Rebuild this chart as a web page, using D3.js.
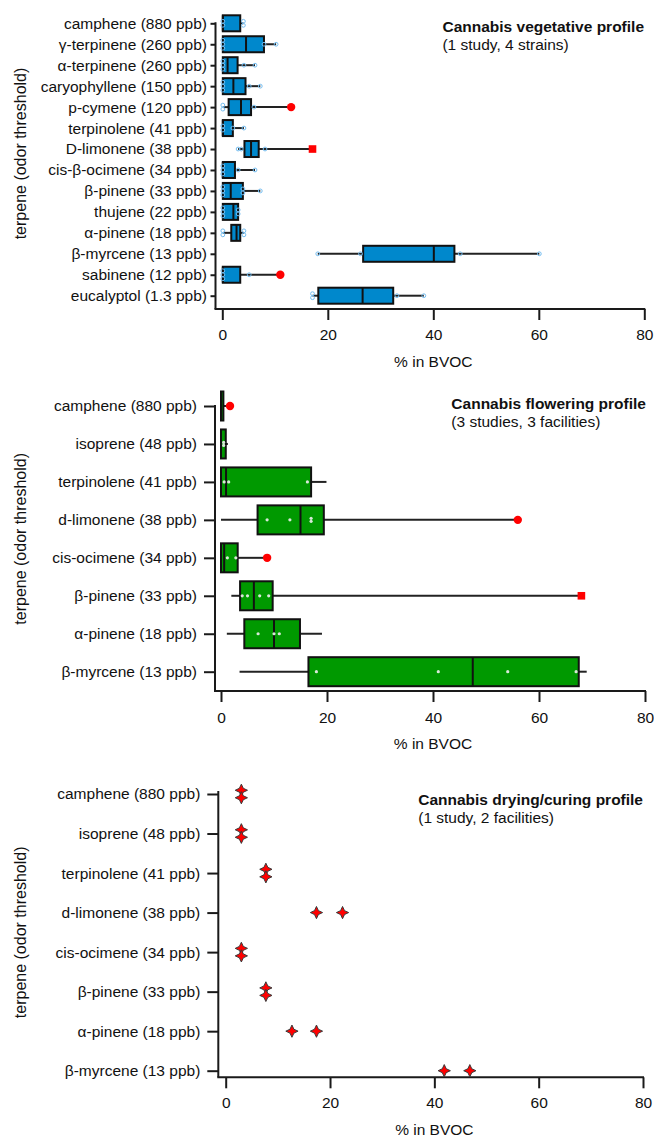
<!DOCTYPE html>
<html>
<head>
<meta charset="utf-8">
<script src="https://cdn.jsdelivr.net/npm/d3@7"></script>
<style>
body { margin: 0; background: #fff; }
text { font-family: "Liberation Sans", Arial, sans-serif; fill: #111; }
</style>
</head>
<body>
<svg id="chart" width="654" height="1137"></svg>
<script>
// ---- vegetative profile (box plots) ----
const vegTerpenes = ["camphene (880 ppb)", "γ-terpinene (260 ppb)", "α-terpinene (260 ppb)", "caryophyllene (150 ppb)",
    "p-cymene (120 ppb)", "terpinolene (41 ppb)", "D-limonene (38 ppb)", "cis-β-ocimene (34 ppb)", "β-pinene (33 ppb)",
    "thujene (22 ppb)", "α-pinene (18 ppb)", "β-myrcene (13 ppb)", "sabinene (12 ppb)", "eucalyptol (1.3 ppb)"];
const vegLo     = [0.1, 0.1, 0.1, 0.1, 0.1, 0.1, 3.0, 0.1, 0.1, 0.1, 0.1, 18.1, 0.1, 17.1];
const vegQ1     = [0.1, 0.1, 0.1, 0.1, 1.2, 0.1, 4.2, 0.1, 0.1, 0.1, 1.7, 26.7, 0.1, 18.2];
const vegMedian = [0.1, 4.5, 1.0, 2.1, 3.55, 0.1, 5.45, 0.1, 1.6, 2.1, 2.7, 40.1, 0.1, 26.6];
const vegQ3     = [3.4, 7.9, 2.9, 4.4, 5.45, 2.0, 6.9, 2.4, 3.9, 3.0, 3.4, 44.0, 3.4, 32.4];
const vegHi     = [4.0, 10.2, 6.2, 7.2, 13.05, 4.1, 17.1, 6.2, 7.2, 3.0, 4.1, 60.1, 11.0, 38.2];
const vegPoints = [
    [0.1, 0.1, 4.0, 4.0], [0.1, 0.1, 0.1, 7.9, 10.2], [0.1, 0.1, 0.1, 4.1, 6.2], [0.1, 0.1, 0.1, 5.1, 7.2],
    [0.1, 0.1, 6.0], [0.1, 0.1, 2.0, 4.1], [3.0, 3.6, 8.1], [0.1, 0.1, 0.1, 3.0, 6.2], [0.1, 0.1, 0.1, 3.9, 3.9, 7.2],
    [0.1, 0.1, 0.1, 3.0, 3.0], [0.1, 0.1, 4.1, 4.1], [18.1, 26.2, 45.1, 60.1], [0.1, 0.1, 0.1, 5.1], [17.1, 17.1, 33.1, 38.2]];
const vegOutliers = [null, null, null, null, [13.05, "circle"], null, [17.1, "square"], null, null, null, null, null, [11.0, "circle"], null];

// ---- flowering profile (box plots) ----
const flowTerpenes = ["camphene (880 ppb)", "isoprene (48 ppb)", "terpinolene (41 ppb)", "d-limonene (38 ppb)",
    "cis-ocimene (34 ppb)", "β-pinene (33 ppb)", "α-pinene (18 ppb)", "β-myrcene (13 ppb)"];
const flowLo     = [0, 0, 0, 0, 0, 1.95, 1.1, 3.5];
const flowQ1     = [0, 0, 0, 6.9, 0, 3.6, 4.4, 16.5];
const flowMedian = [0, 0, 0.95, 15.0, 0.6, 6.2, 10.0, 47.5];
const flowQ3     = [0.45, 0.9, 17.0, 19.4, 3.15, 9.75, 14.9, 67.5];
const flowHi     = [1.7, 1.3, 19.9, 56.0, 8.7, 68.0, 19.05, 69.0];
const flowPoints = [[], [0.5, 0.5], [0.6, 1.45, 16.3], [8.7, 13.0, 17.0, 17.0], [1.2, 2.8],
    [4.0, 5.0, 7.3, 9.0], [7.0, 10.0, 11.0], [18.0, 41.0, 54.1, 67.0]];
const flowOutliers = [[1.7, "circle"], null, null, [56.0, "circle"], [8.7, "circle"], [68.0, "square"], null, null];

// ---- drying/curing profile (markers only) ----
const dryTerpenes = ["camphene (880 ppb)", "isoprene (48 ppb)", "terpinolene (41 ppb)", "d-limonene (38 ppb)",
    "cis-ocimene (34 ppb)", "β-pinene (33 ppb)", "α-pinene (18 ppb)", "β-myrcene (13 ppb)"];
const dryFacility1 = [3.0, 3.0, 7.7, 17.4, 3.0, 7.7, 12.7, 41.9];
const dryFacility2 = [3.0, 3.0, 7.7, 22.4, 3.0, 7.7, 17.4, 46.8];

const xTicks = [0, 20, 40, 60, 80];

const svg = d3.select("#chart");

// four point star marker
const star4 = {
    draw(ctx, size) {
        const r = Math.sqrt(size) / 2, ri = r * 0.45;
        for (let i = 0; i < 8; i++) {
            const a = i * Math.PI / 4 - Math.PI / 2;
            const rr = i % 2 === 0 ? r : ri;
            if (i === 0) ctx.moveTo(rr * Math.cos(a), rr * Math.sin(a));
            else ctx.lineTo(rr * Math.cos(a), rr * Math.sin(a));
        }
        ctx.closePath();
    }
};

function drawAxes(g, p, x, y) {
    // x axis
    const xa = g.append("g")
        .attr("transform", `translate(0,${p.axisY})`)
        .call(d3.axisBottom(x).tickValues(xTicks).tickSize(11).tickPadding(p.xPad));
    xa.select(".domain").remove();
    xa.selectAll("line").attr("stroke", "#1a1a1a").attr("stroke-width", 2);
    xa.selectAll("text").style("font-size", "15.5px").attr("fill", "#111");
    g.append("line")
        .attr("x1", p.yAxisX - 1).attr("x2", x(80) + 1)
        .attr("y1", p.axisY).attr("y2", p.axisY)
        .attr("stroke", "#1a1a1a").attr("stroke-width", 2);

    // y axis
    const ya = g.append("g")
        .attr("transform", `translate(${p.yAxisX},0)`)
        .call(d3.axisLeft(y).tickSize(p.yTick).tickPadding(p.yPad));
    ya.select(".domain").remove();
    ya.selectAll("line").attr("stroke", "#1a1a1a").attr("stroke-width", 2);
    ya.selectAll("text").style("font-size", "15.5px").attr("fill", "#111");
    g.append("line")
        .attr("x1", p.yAxisX).attr("x2", p.yAxisX)
        .attr("y1", p.yTop - p.yExtra).attr("y2", p.axisY)
        .attr("stroke", "#1a1a1a").attr("stroke-width", 2);

    // axis titles
    g.append("text")
        .attr("transform", `translate(26,${(p.yTop + p.yBot) / 2 - p.yLabelShift}) rotate(-90)`)
        .attr("text-anchor", "middle")
        .style("font-size", "16px")
        .text("terpene (odor threshold)");
    g.append("text")
        .attr("x", (x(0) + x(80)) / 2)
        .attr("y", p.axisY + 58)
        .attr("text-anchor", "middle")
        .style("font-size", "15.5px")
        .text("% in BVOC");

    // panel title
    const t = g.append("text")
        .attr("x", p.titleX).attr("y", p.titleY)
        .attr("text-anchor", "end")
        .style("font-size", "15.5px")
        .style("font-weight", "bold")
        .text(p.title);
    const bx = t.node().getBBox().x;
    g.append("text")
        .attr("x", bx).attr("y", p.titleY + 18)
        .style("font-size", "15.5px")
        .text(p.subtitle);
}

// spread repeated values vertically so they stay visible
function stacked(vals, gap) {
    const out = [];
    const groups = d3.group(vals, v => Math.round(v * 10));
    groups.forEach(arr => arr.forEach((v, k) => out.push({ v, dy: (k - (arr.length - 1) / 2) * gap })));
    return out;
}

function drawBoxPanel(p) {
    const g = svg.append("g");
    const x = d3.scaleLinear().domain([0, 80]).range([p.x0, p.x80]);
    const y = d3.scalePoint().domain(p.cats).range([p.yTop, p.yBot]);
    drawAxes(g, p, x, y);

    const rows = p.cats.map((c, i) => ({
        c, lo: p.lo[i], q1: p.q1[i], med: p.med[i], q3: p.q3[i], hi: p.hi[i],
        pts: p.pts[i], out: p.out[i]
    }));

    const row = g.append("g").selectAll("g")
        .data(rows)
        .enter().append("g")
        .attr("transform", d => `translate(0,${y(d.c)})`);

    // whiskers
    row.filter(d => d.lo < d.q1).append("line")
        .attr("x1", d => x(d.lo)).attr("x2", d => x(d.q1))
        .attr("stroke", "#222").attr("stroke-width", 2);
    row.filter(d => d.hi > d.q3).append("line")
        .attr("x1", d => x(d.q3)).attr("x2", d => x(d.hi))
        .attr("stroke", "#222").attr("stroke-width", 2);

    // box
    row.append("rect")
        .attr("x", d => x(d.q1))
        .attr("y", -p.boxH / 2)
        .attr("width", d => Math.max(0.5, x(d.q3) - x(d.q1)))
        .attr("height", p.boxH)
        .attr("fill", p.fill)
        .attr("stroke", "#111")
        .attr("stroke-width", 2);
    row.append("line")
        .attr("x1", d => x(d.med)).attr("x2", d => x(d.med))
        .attr("y1", -p.boxH / 2).attr("y2", p.boxH / 2)
        .attr("stroke", "#111").attr("stroke-width", 2);

    // individual samples
    row.each(function(d) {
        const sel = d3.select(this);
        sel.selectAll("circle.pt")
            .data(stacked(d.pts, p.stackGap))
            .enter().append("circle")
            .attr("class", "pt")
            .attr("cx", e => x(e.v))
            .attr("cy", e => e.dy)
            .attr("r", p.ptR)
            .attr("fill", p.ptFill)
            .attr("stroke", p.ptStroke)
            .attr("stroke-width", 1);
        if (d.out) {
            if (d.out[1] === "circle") {
                sel.append("circle")
                    .attr("cx", x(d.out[0])).attr("r", 4.2)
                    .attr("fill", "#ff0000");
            } else {
                sel.append("rect")
                    .attr("x", x(d.out[0]) - 3.8).attr("y", -3.8)
                    .attr("width", 7.6).attr("height", 7.6)
                    .attr("fill", "#ff0000");
            }
        }
    });
}

function drawDotPanel(p) {
    const g = svg.append("g");
    const x = d3.scaleLinear().domain([0, 80]).range([p.x0, p.x80]);
    const y = d3.scalePoint().domain(p.cats).range([p.yTop, p.yBot]);
    drawAxes(g, p, x, y);

    const row = g.append("g").selectAll("g")
        .data(p.cats.map((c, i) => ({ c, vals: [p.a[i], p.b[i]] })))
        .enter().append("g")
        .attr("transform", d => `translate(0,${y(d.c)})`);

    row.selectAll("path")
        .data(d => stacked(d.vals, 7.5))
        .enter().append("path")
        .attr("transform", e => `translate(${x(e.v)},${e.dy})`)
        .attr("d", d3.symbol(star4, 150))
        .attr("fill", "#ff0000")
        .attr("stroke", "#3a3a3a")
        .attr("stroke-width", 1);
}

drawBoxPanel({
    cats: vegTerpenes, lo: vegLo, q1: vegQ1, med: vegMedian, q3: vegQ3, hi: vegHi, pts: vegPoints, out: vegOutliers,
    yTop: 23.3, yBot: 295.7, axisY: 309, yAxisX: 215.5, x0: 222.3, x80: 644.3,
    yTick: 5, yPad: 3.5, xPad: 9, yExtra: 1, yLabelShift: 6, boxH: 16, fill: "#0088cc",
    ptR: 1.9, ptFill: "none", ptStroke: "#74bdf0", stackGap: 4,
    title: "Cannabis vegetative profile", subtitle: "(1 study, 4 strains)", titleX: 644, titleY: 32
});

drawBoxPanel({
    cats: flowTerpenes, lo: flowLo, q1: flowQ1, med: flowMedian, q3: flowQ3, hi: flowHi, pts: flowPoints, out: flowOutliers,
    yTop: 406, yBot: 671.7, axisY: 691, yAxisX: 215, x0: 221, x80: 645,
    yTick: 11, yPad: 7, xPad: 10, yExtra: 1, yLabelShift: 0, boxH: 29, fill: "#009900",
    ptR: 1.6, ptFill: "#d8e8d8", ptStroke: "none", stackGap: 3,
    title: "Cannabis flowering profile", subtitle: "(3 studies, 3 facilities)", titleX: 646, titleY: 409
});

drawDotPanel({
    cats: dryTerpenes, a: dryFacility1, b: dryFacility2,
    yTop: 794, yBot: 1070.7, axisY: 1077.3, yAxisX: 218.3, x0: 225.7, x80: 643,
    yTick: 11, yPad: 7, xPad: 8.7, yExtra: 3, yLabelShift: 0,
    title: "Cannabis drying/curing profile", subtitle: "(1 study, 2 facilities)", titleX: 643, titleY: 805
});
</script>
</body>
</html>
